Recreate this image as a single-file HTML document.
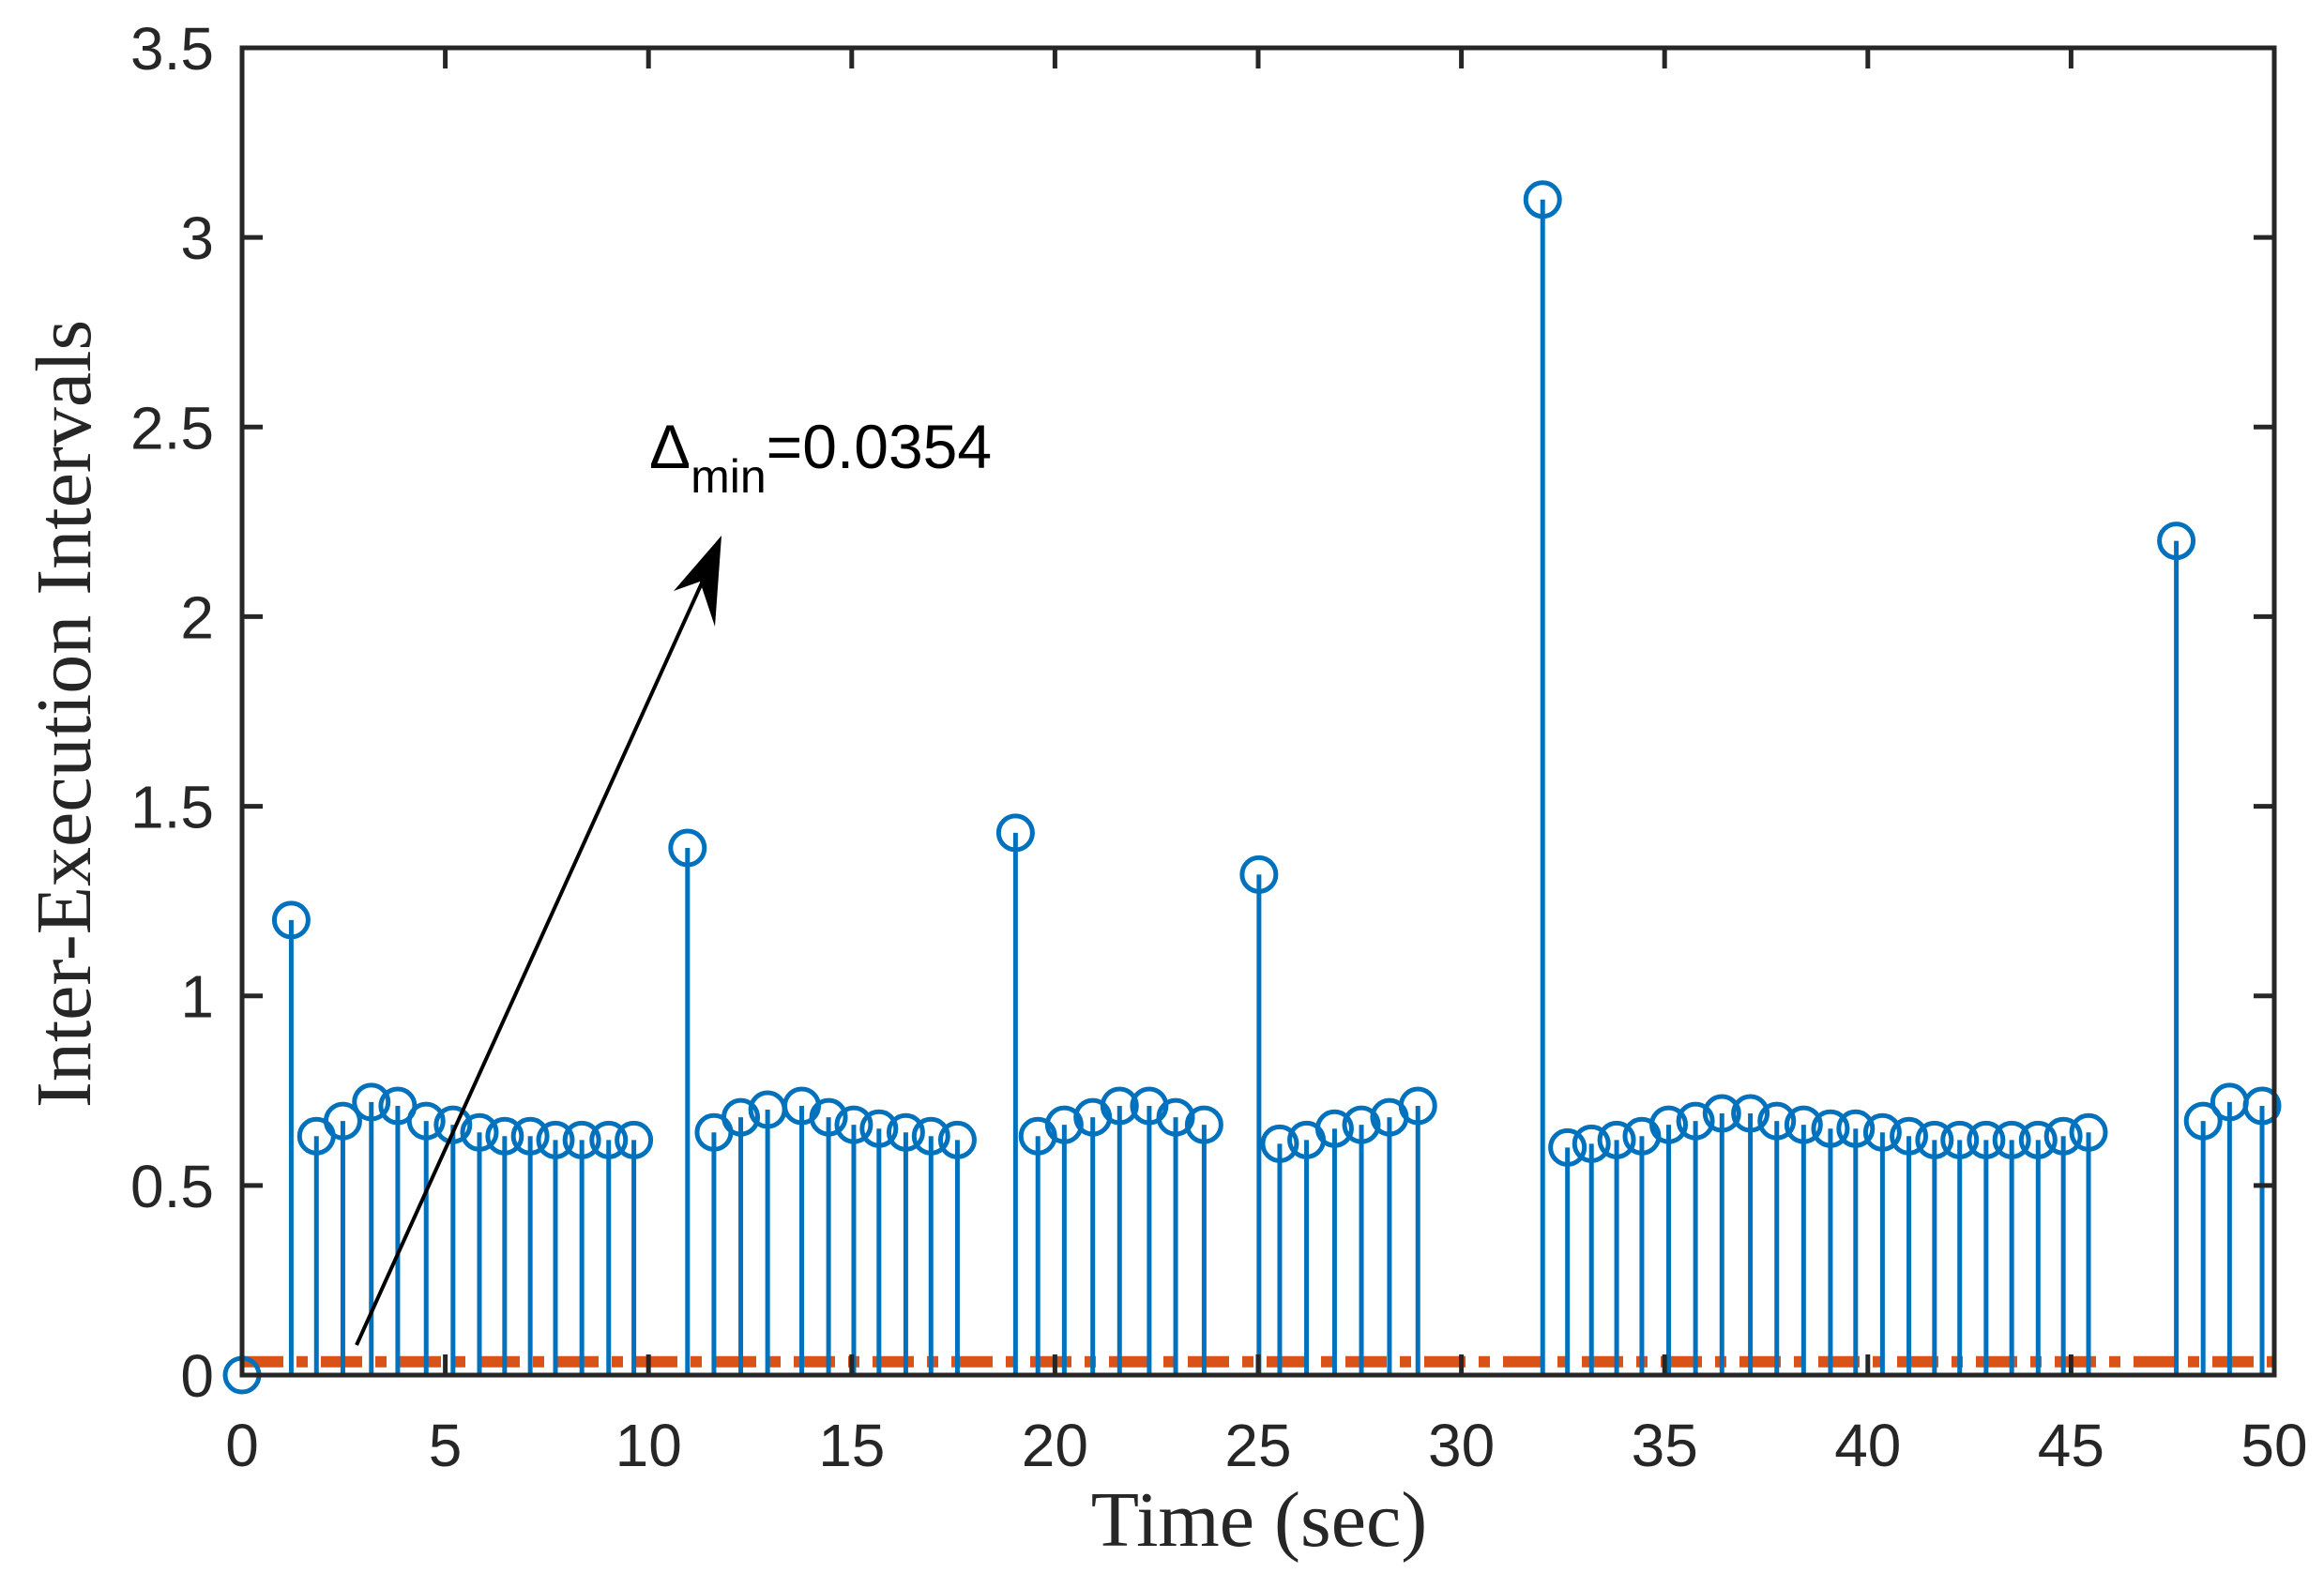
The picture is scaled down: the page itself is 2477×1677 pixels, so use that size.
<!DOCTYPE html>
<html><head><meta charset="utf-8"><style>
html,body{margin:0;padding:0;background:#fff;}
svg{display:block;}
</style></head><body>
<svg id="chart" width="2477" height="1677" viewBox="0 0 2477 1677" xmlns="http://www.w3.org/2000/svg">
<rect width="2477" height="1677" fill="#fff"/>
<g id="marks"></g>
<g id="axes"></g>
<line x1="380" y1="1434" x2="760" y2="595" stroke="#000" stroke-width="4"/>
<polygon points="769,571 718,630 746,620 762,668" fill="#000"/>
<text x="692" y="499" font-family="Liberation Sans, sans-serif" font-size="66" fill="#000">Δ<tspan font-size="50" dy="26">min</tspan><tspan dy="-26">=0.0354</tspan></text>
<text x="1342" y="1648" text-anchor="middle" font-family="Liberation Serif, serif" font-size="84" fill="#262626">Time (sec)</text>
<text transform="translate(96,761) rotate(-90)" text-anchor="middle" font-family="Liberation Serif, serif" font-size="84" fill="#262626">Inter-Execution Intervals</text>
</svg>
<script>
const times=[0,1.21,1.83,2.48,3.18,3.83,4.53,5.19,5.84,6.46,7.09,7.71,8.36,9.02,9.64,
10.96,11.61,12.27,12.93,13.77,14.43,15.05,15.67,16.33,16.95,17.6,
19.03,19.58,20.23,20.93,21.59,22.32,22.97,23.67,
25.02,25.53,26.19,26.88,27.54,28.23,28.93,
32.0,32.61,33.2,33.82,34.44,35.1,35.76,36.41,37.11,37.76,38.42,39.08,39.7,40.36,41.01,41.64,42.26,42.91,43.54,44.19,44.81,45.43,
47.59,48.25,48.9,49.7];
const intervals=[0,1.2,0.63,0.67,0.72,0.71,0.67,0.66,0.64,0.63,0.63,0.62,0.62,0.62,0.62,
1.39,0.64,0.68,0.70,0.71,0.68,0.66,0.65,0.64,0.63,0.62,
1.43,0.63,0.66,0.68,0.71,0.71,0.68,0.66,
1.32,0.61,0.62,0.65,0.66,0.68,0.71,
3.1,0.60,0.61,0.62,0.63,0.66,0.67,0.69,0.69,0.67,0.66,0.65,0.65,0.64,0.63,0.62,0.62,0.62,0.62,0.62,0.63,0.64,
2.2,0.67,0.72,0.71];
const deltaMin=[0.0354];
const xTicks=[0,5,10,15,20,25,30,35,40,45,50];
const yTicks=[0,0.5,1,1.5,2,2.5,3,3.5];
const yTickLabels=["0","0.5","1","1.5","2","2.5","3","3.5"];

const L=258,R=2424,T=51,B=1466;
const sx=v=>L+(v-0)/(50-0)*(R-L);
const sy=v=>B-(v-0)/(3.5-0)*(B-T);
const NS="http://www.w3.org/2000/svg";
function mk(tag,attrs,parent){const e=document.createElementNS(NS,tag);for(const k in attrs)e.setAttribute(k,attrs[k]);parent.appendChild(e);return e;}
const marks=document.getElementById('marks');
const axes=document.getElementById('axes');

const th=mk('line',{x1:L,x2:R,y1:sy(deltaMin[0]),y2:sy(deltaMin[0]),stroke:'#D95319','stroke-width':12,'stroke-dasharray':'44 14 12 14'},marks);



times.forEach((t,i)=>{
  const s=mk('line',{x1:sx(t),x2:sx(t),y1:sy(0),y2:sy(intervals[i]),stroke:'#0072BD','stroke-width':5},marks);
  
  
  const c=mk('circle',{cx:sx(t),cy:sy(intervals[i]),r:18,fill:'none',stroke:'#0072BD','stroke-width':5},marks);
  
  
});

const box=mk('rect',{x:L,y:T,width:R-L,height:B-T,fill:'none',stroke:'#262626','stroke-width':5},axes);



xTicks.forEach(v=>{
  const x=sx(v);
  const t1=mk('line',{x1:x,x2:x,y1:B,y2:B-22,stroke:'#262626','stroke-width':5},axes);
  
  
  const t2=mk('line',{x1:x,x2:x,y1:T,y2:T+22,stroke:'#262626','stroke-width':5},axes);
  
  
  const lb=mk('text',{x:x,y:1563,'text-anchor':'middle','font-family':'Liberation Sans, sans-serif','font-size':64,fill:'#262626'},axes);
  lb.textContent=String(v);
  
  
});
yTicks.forEach((v,i)=>{
  const y=sy(v);
  const t1=mk('line',{x1:L,x2:L+22,y1:y,y2:y,stroke:'#262626','stroke-width':5},axes);
  
  
  const t2=mk('line',{x1:R,x2:R-22,y1:y,y2:y,stroke:'#262626','stroke-width':5},axes);
  
  
  const lb=mk('text',{x:228,y:y+23,'text-anchor':'end','font-family':'Liberation Sans, sans-serif','font-size':64,fill:'#262626'},axes);
  lb.textContent=yTickLabels[i];
  
  
});
</script>
</body></html>
